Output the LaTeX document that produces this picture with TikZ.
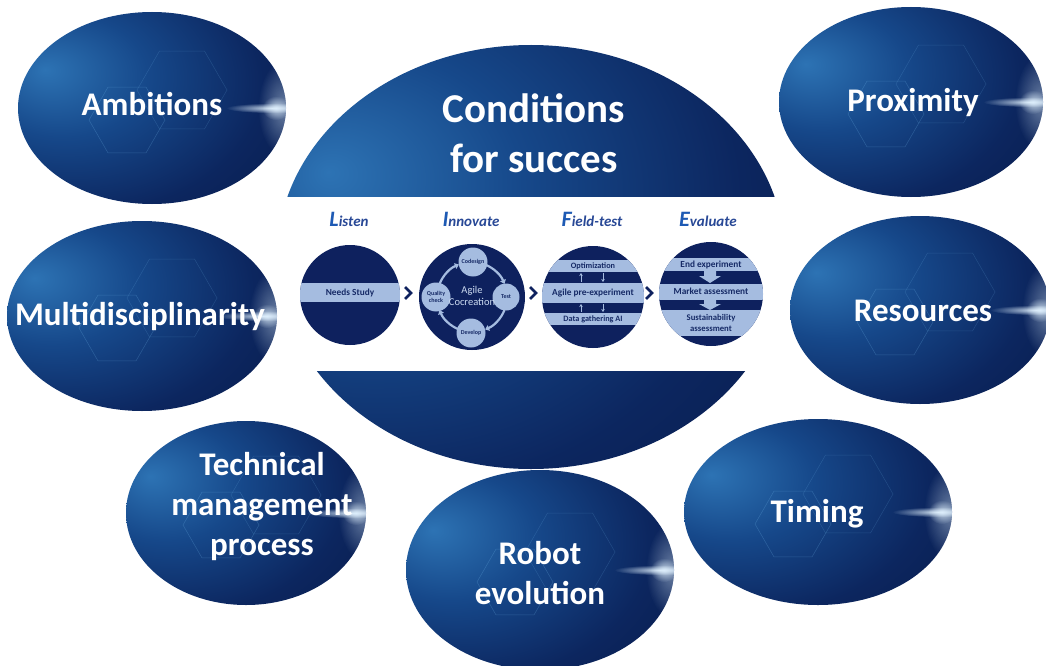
\documentclass[tikz,border=0pt]{standalone}
\usepackage{fontspec}
\setmainfont{Carlito}
\usetikzlibrary{fadings,arrows.meta}
\definecolor{bubA}{RGB}{45,115,180}
\definecolor{bubB}{RGB}{22,72,138}
\definecolor{bubC}{RGB}{12,38,95}
\definecolor{bubD}{RGB}{8,26,72}
\definecolor{glowc}{RGB}{225,242,255}
\definecolor{hexc}{RGB}{120,190,240}
\definecolor{innav}{RGB}{14,33,94}
\definecolor{barc}{RGB}{165,188,224}
\definecolor{bartext}{RGB}{22,42,102}
\definecolor{headA}{RGB}{30,90,180}
\definecolor{headB}{RGB}{40,72,150}
\definecolor{agilec}{RGB}{205,220,242}
\pgfdeclareradialshading{bub}{\pgfpoint{-20bp}{10bp}}{color(0bp)=(bubA); color(16bp)=(bubB); color(34bp)=(bubC); color(52bp)=(bubD); color(100bp)=(bubD)}
\tikzfading[name=glowfade, inner color=transparent!0, outer color=transparent!100]
\tikzset{
  bubble/.style={shading=bub, path picture={
     \draw[hexc, opacity=0.25, line width=0.5pt] ([xshift=-25pt,yshift=-12pt]path picture bounding box.center)
        +(0:38pt) -- +(60:38pt) -- +(120:38pt) -- +(180:38pt) -- +(240:38pt) -- +(300:38pt) -- cycle;
     \draw[hexc, opacity=0.18, line width=0.5pt] ([xshift=30pt,yshift=18pt]path picture bounding box.center)
        +(0:45pt) -- +(60:45pt) -- +(120:45pt) -- +(180:45pt) -- +(240:45pt) -- +(300:45pt) -- cycle;
     \fill[glowc, opacity=0.45, path fading=glowfade] ([xshift=-2pt]path picture bounding box.east) ellipse (26pt and 48pt);
     \fill[glowc, opacity=0.9, path fading=glowfade] ([xshift=-14pt]path picture bounding box.east) ellipse (46pt and 5pt);
     \fill[glowc, opacity=0.8, path fading=glowfade] ([xshift=-10pt]path picture bounding box.east) ellipse (14pt and 12pt);
  }},
  lbl/.style={text=white, align=center, font=\bfseries\fontsize{33}{40}\selectfont},
  biglbl/.style={text=white, align=center, font=\bfseries\fontsize{41}{50}\selectfont},
  innc/.style={circle, fill=innav, inner sep=0pt},
  smallc/.style={circle, fill=barc, inner sep=0pt, minimum size=29pt, text=bartext, align=center, font=\bfseries\fontsize{6}{6.5}\selectfont},
  bartxt/.style={text=bartext, align=center, font=\bfseries\fontsize{9.3}{11.5}\selectfont},
  bartxts/.style={text=bartext, align=center, font=\bfseries\fontsize{8.2}{10}\selectfont},
  head/.style={text=headB, font=\bfseries\itshape\fontsize{15}{17}\selectfont},
  chev/.style={innav, line width=2.8pt},
  ring/.style={barc, line width=2.2pt, -{Triangle[length=4pt,width=6pt]}},
  thinar/.style={barc, line width=1pt, -{Stealth[length=3pt,width=3.5pt]}},
}
\newcommand\hfirst[1]{{\color{headA}\fontsize{22}{22}\selectfont #1}}
\begin{document}
\begin{tikzpicture}[x=1pt,y=-1pt]
\useasboundingbox (0,0) rectangle (1046,666);
\fill[white] (0,0) rectangle (1046,666);
% central ellipse with white band
\path[bubble] (531,257) ellipse (254 and 212);
\fill[white] (268,197) rectangle (794,371);
\node[biglbl] (cond) at (534,133) {Conditions\\for succes};
% outer bubbles
\path[bubble] (152,108) ellipse (134 and 96);
\node[lbl] (amb) at (152,104) {Ambitions};
\path[bubble] (142,316) ellipse (135 and 95);
\node[lbl] (multi) at (140,316) {Multidisciplinarity};
\path[bubble] (246,513) ellipse (120 and 92);
\node[lbl] (tmp) at (262,507) {Technical\\management\\process};
\path[bubble] (540,570) ellipse (134 and 100);
\node[lbl] (robot) at (540,573) {Robot\\evolution};
\path[bubble] (818,512) ellipse (134 and 93);
\node[lbl] (timing) at (817,514) {Timing};
\path[bubble] (920,310) ellipse (130 and 94);
\node[lbl] (res) at (923,311) {Resources};
\path[bubble] (911,102) ellipse (132 and 95);
\node[lbl] (prox) at (913,103) {Proximity};
% headings
\node[head] (hL) at (349,219) {\hfirst{L}isten};
\node[head] (hI) at (471,219) {\hfirst{I}nnovate};
\node[head] (hF) at (592,219) {\hfirst{F}ield-test};
\node[head] (hE) at (708,219) {\hfirst{E}valuate};
% Listen circle
\node[innc, minimum size=100pt] (cL) at (350,295) {};
\begin{scope}
  \clip (cL.center) circle (50pt);
  \fill[barc] (290,283) rectangle (410,302);
\end{scope}
\node[bartxt] (needs) at (350,293) {Needs Study};
% Innovate circle
\node[innc, minimum size=106pt] (cI) at (472,297) {};
\draw[ring] ([shift={(68:35pt)}]cI.center) arc[start angle=68, end angle=22, radius=35pt];
\draw[ring] ([shift={(-22:35pt)}]cI.center) arc[start angle=-22, end angle=-68, radius=35pt];
\draw[ring] ([shift={(-112:35pt)}]cI.center) arc[start angle=-112, end angle=-158, radius=35pt];
\draw[ring] ([shift={(158:35pt)}]cI.center) arc[start angle=158, end angle=112, radius=35pt];
\node[smallc] (codesign) at (473,262) {Codesign};
\node[smallc, minimum size=27pt] (test) at (506,297) {Test};
\node[smallc] (develop) at (471,333) {Develop};
\node[smallc] (quality) at (436,297) {Quality\\check};
\node[text=agilec, align=center, font=\fontsize{10.5}{12}\selectfont] (agile) at (472,296) {Agile\\Cocreation};
% Field-test circle
\node[innc, minimum size=102pt] (cF) at (593,297) {};
\begin{scope}
  \clip (cF.center) circle (51pt);
  \fill[barc] (530,260) rectangle (660,272);
  \fill[barc] (530,283) rectangle (660,303);
  \fill[barc] (530,313) rectangle (660,325);
\end{scope}
\node[bartxts] (optim) at (593,266) {Optimization};
\node[bartxt] (agilepre) at (593,293) {Agile pre-experiment};
\node[bartxts] (datag) at (593,319.5) {Data gathering AI};
\coordinate (fa1) at (581,282); \coordinate (fa2) at (581,273);
\coordinate (fb1) at (603,273); \coordinate (fb2) at (603,282);
\coordinate (fc1) at (581,312); \coordinate (fc2) at (581,304);
\coordinate (fd1) at (603,304); \coordinate (fd2) at (603,312);
\draw[thinar] (fa1) -- (fa2);
\draw[thinar] (fb1) -- (fb2);
\draw[thinar] (fc1) -- (fc2);
\draw[thinar] (fd1) -- (fd2);
% Evaluate circle
\node[innc, minimum size=104pt] (cE) at (711,294) {};
\begin{scope}
  \clip (cE.center) circle (52pt);
  \fill[barc] (650,258) rectangle (770,271);
  \fill[barc] (650,284) rectangle (770,300);
  \fill[barc] (650,310) rectangle (770,336);
\end{scope}
\fill[barc] (704,271) -- (716,271) -- (716,276) -- (721,276) -- (710,283) -- (699,276) -- (704,276) -- cycle;
\fill[barc] (704,300) -- (716,300) -- (716,304) -- (721,304) -- (710,310) -- (699,304) -- (704,304) -- cycle;
\node[bartxt] (endexp) at (711,264.5) {End experiment};
\node[bartxt] (market) at (711,291.5) {Market assessment};
\node[bartxts, font=\bfseries\fontsize{8.7}{11}\selectfont] (sust) at (711,322.5) {Sustainability\\assessment};
% chevrons
\draw[chev] (405,287) -- (411,293) -- (405,299);
\draw[chev] (530,287) -- (536,293) -- (530,299);
\draw[chev] (646,287) -- (652,293) -- (646,299);
\end{tikzpicture}
\end{document}
